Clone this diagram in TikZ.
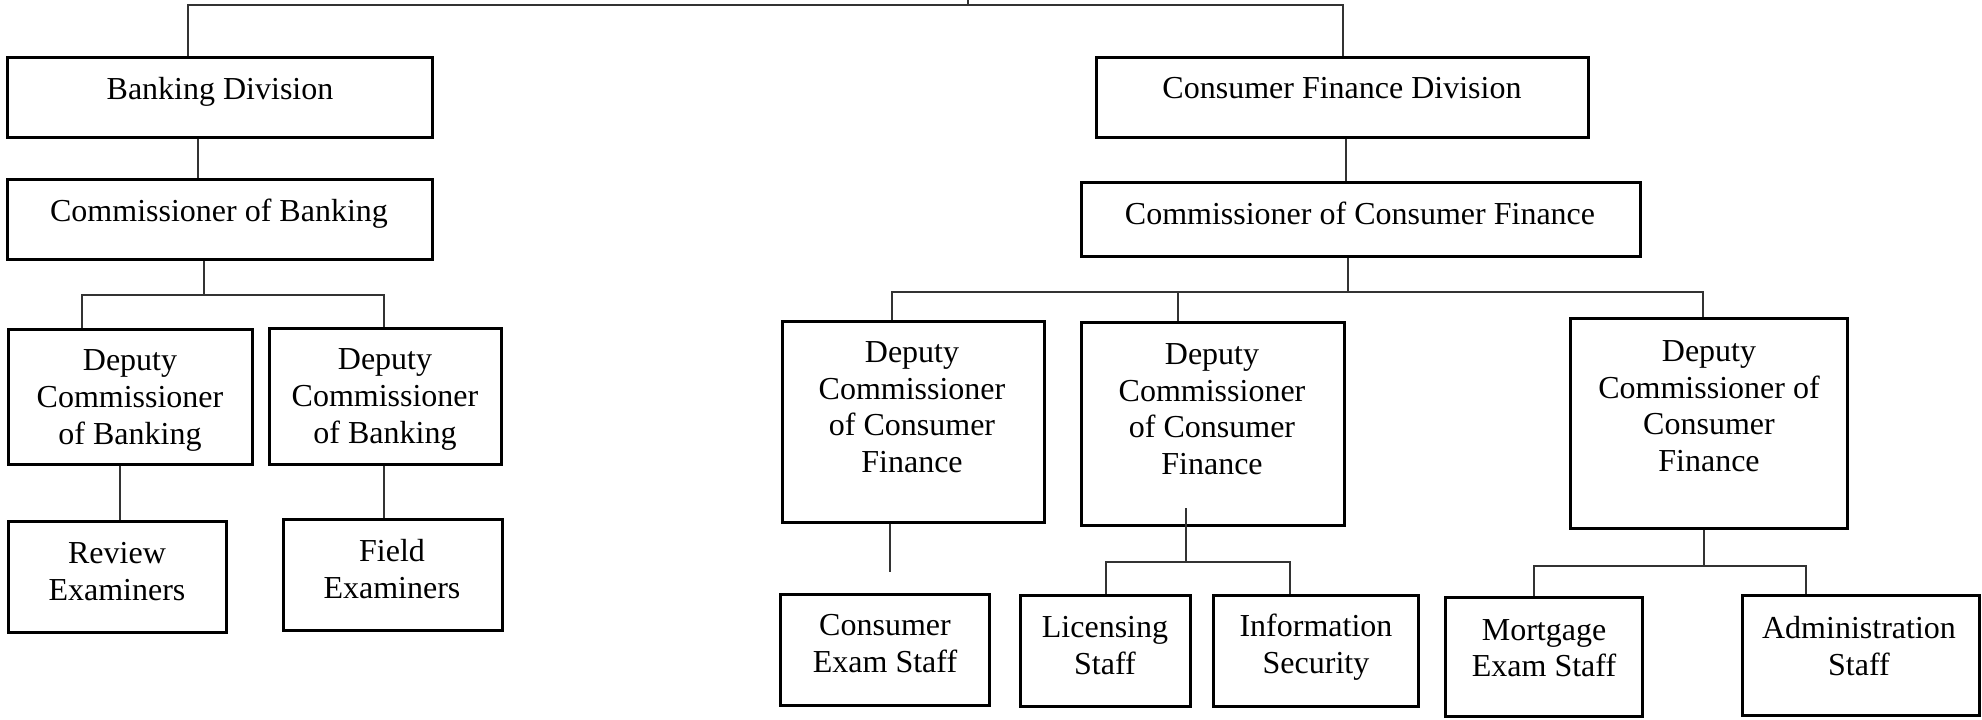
\documentclass[tikz,border=0pt]{standalone}
\usepackage{fontspec}
\setmainfont{Liberation Serif}

% \OrgUnit{name}{x1}{y1}{x2}{y2}{text x}{text y}{text}
\newcommand\OrgUnit[8]{%
  \pgfmathsetmacro\ouw{(#4-#2)*0.5}%
  \pgfmathsetmacro\ouh{(#5-#3)*0.5}%
  \node[orgbox, minimum width=\ouw pt, minimum height=\ouh pt]
    (#1) at ({(#2+#4)/2},{(#3+#5)/2}) {};
  \node[orgtext] (#1-t) at (#6,#7) {#8};%
}

\begin{document}
\begin{tikzpicture}[x=0.5pt,y=-0.5pt,
  orgbox/.style={draw=black, line width=1.5pt, rectangle, inner sep=0pt},
  orgtext/.style={align=center, inner sep=0pt, text=black, text depth=0pt,
                  font=\fontsize{16pt}{18.4pt}\selectfont},
  link/.style={draw=black!80, line width=0.75pt}]
\useasboundingbox (0,0) rectangle (1982,719);

% Banking side
\OrgUnit{bd}{7}{57}{432}{137}{220}{88}{Banking Division}
\OrgUnit{cb}{7}{179}{432}{259}{219}{210}{Commissioner of Banking}
\OrgUnit{db1}{8}{329}{252}{464}{130}{397}{Deputy\\Commissioner\\of Banking}
\OrgUnit{db2}{269}{328}{501}{464}{385}{396}{Deputy\\Commissioner\\of Banking}
\OrgUnit{re}{8}{521}{226}{632}{117}{571}{Review\\Examiners}
\OrgUnit{fe}{283}{519}{502}{630}{392}{569}{Field\\Examiners}

% Consumer finance side
\OrgUnit{cfd}{1096}{57}{1588}{137}{1342}{88}{Consumer Finance Division}
\OrgUnit{ccf}{1081}{182}{1640}{256}{1360}{213}{Commissioner of Consumer Finance}
\OrgUnit{dcf1}{782}{321}{1044}{522}{912}{407}{Deputy\\Commissioner\\of Consumer\\Finance}
\OrgUnit{dcf2}{1081}{322}{1344}{525}{1212}{409}{Deputy\\Commissioner\\of Consumer\\Finance}
\OrgUnit{dcf3}{1570}{318}{1847}{528}{1709}{406}{Deputy\\Commissioner of\\Consumer\\Finance}
\OrgUnit{ces}{780}{594}{989}{705}{885}{643}{Consumer\\Exam Staff}
\OrgUnit{ls}{1020}{595}{1190}{706}{1105}{645}{Licensing\\Staff}
\OrgUnit{is}{1213}{595}{1418}{706}{1316}{644}{Information\\Security}
\OrgUnit{mes}{1445}{597}{1642}{716}{1544}{648}{Mortgage\\Exam Staff}
\OrgUnit{as}{1742}{595}{1979}{715}{1859}{646}{Administration\\Staff}

% Top bus
\coordinate (root) at (968,0);
\coordinate (rootj) at (968,5);
\coordinate (tbL) at (188,5);
\coordinate (tbR) at (1343,5);
\draw[link] (root) -- (rootj);
\draw[link] (bd.north -| tbL) -- (tbL) -- (tbR) -- (cfd.north -| tbR);

% Banking links
\draw[link] (bd.south -| 198,0) -- (cb.north -| 198,0);
\coordinate (bbL) at (82,295);
\coordinate (bbR) at (384,295);
\draw[link] (cb.south -| 204,0) -- (204,295);
\draw[link] (db1.north -| bbL) -- (bbL) -- (bbR) -- (db2.north -| bbR);
\draw[link] (db1.south -| 120,0) -- (re.north -| 120,0);
\draw[link] (db2.south -| 384,0) -- (fe.north -| 384,0);

% Consumer finance links
\draw[link] (cfd.south -| 1346,0) -- (ccf.north -| 1346,0);
\coordinate (cbL) at (892,292);
\coordinate (cbM) at (1178,292);
\coordinate (cbR) at (1703,292);
\draw[link] (ccf.south -| 1348,0) -- (1348,292);
\draw[link] (dcf1.north -| cbL) -- (cbL) -- (cbR) -- (dcf3.north -| cbR);
\draw[link] (cbM) -- (dcf2.north -| cbM);

\coordinate (ce-end) at (890,572);
\draw[link] (dcf1.south -| ce-end) -- (ce-end);

\coordinate (d2in) at (1186,508);
\coordinate (d2j) at (1186,562);
\coordinate (lsL) at (1106,562);
\coordinate (isR) at (1290,562);
\draw[link] (d2in) -- (d2j);
\draw[link] (ls.north -| lsL) -- (lsL) -- (isR) -- (is.north -| isR);

\coordinate (d3j) at (1704,566);
\coordinate (mL) at (1534,566);
\coordinate (aR) at (1806,566);
\draw[link] (dcf3.south -| d3j) -- (d3j);
\draw[link] (mes.north -| mL) -- (mL) -- (aR) -- (as.north -| aR);
\end{tikzpicture}
\end{document}
